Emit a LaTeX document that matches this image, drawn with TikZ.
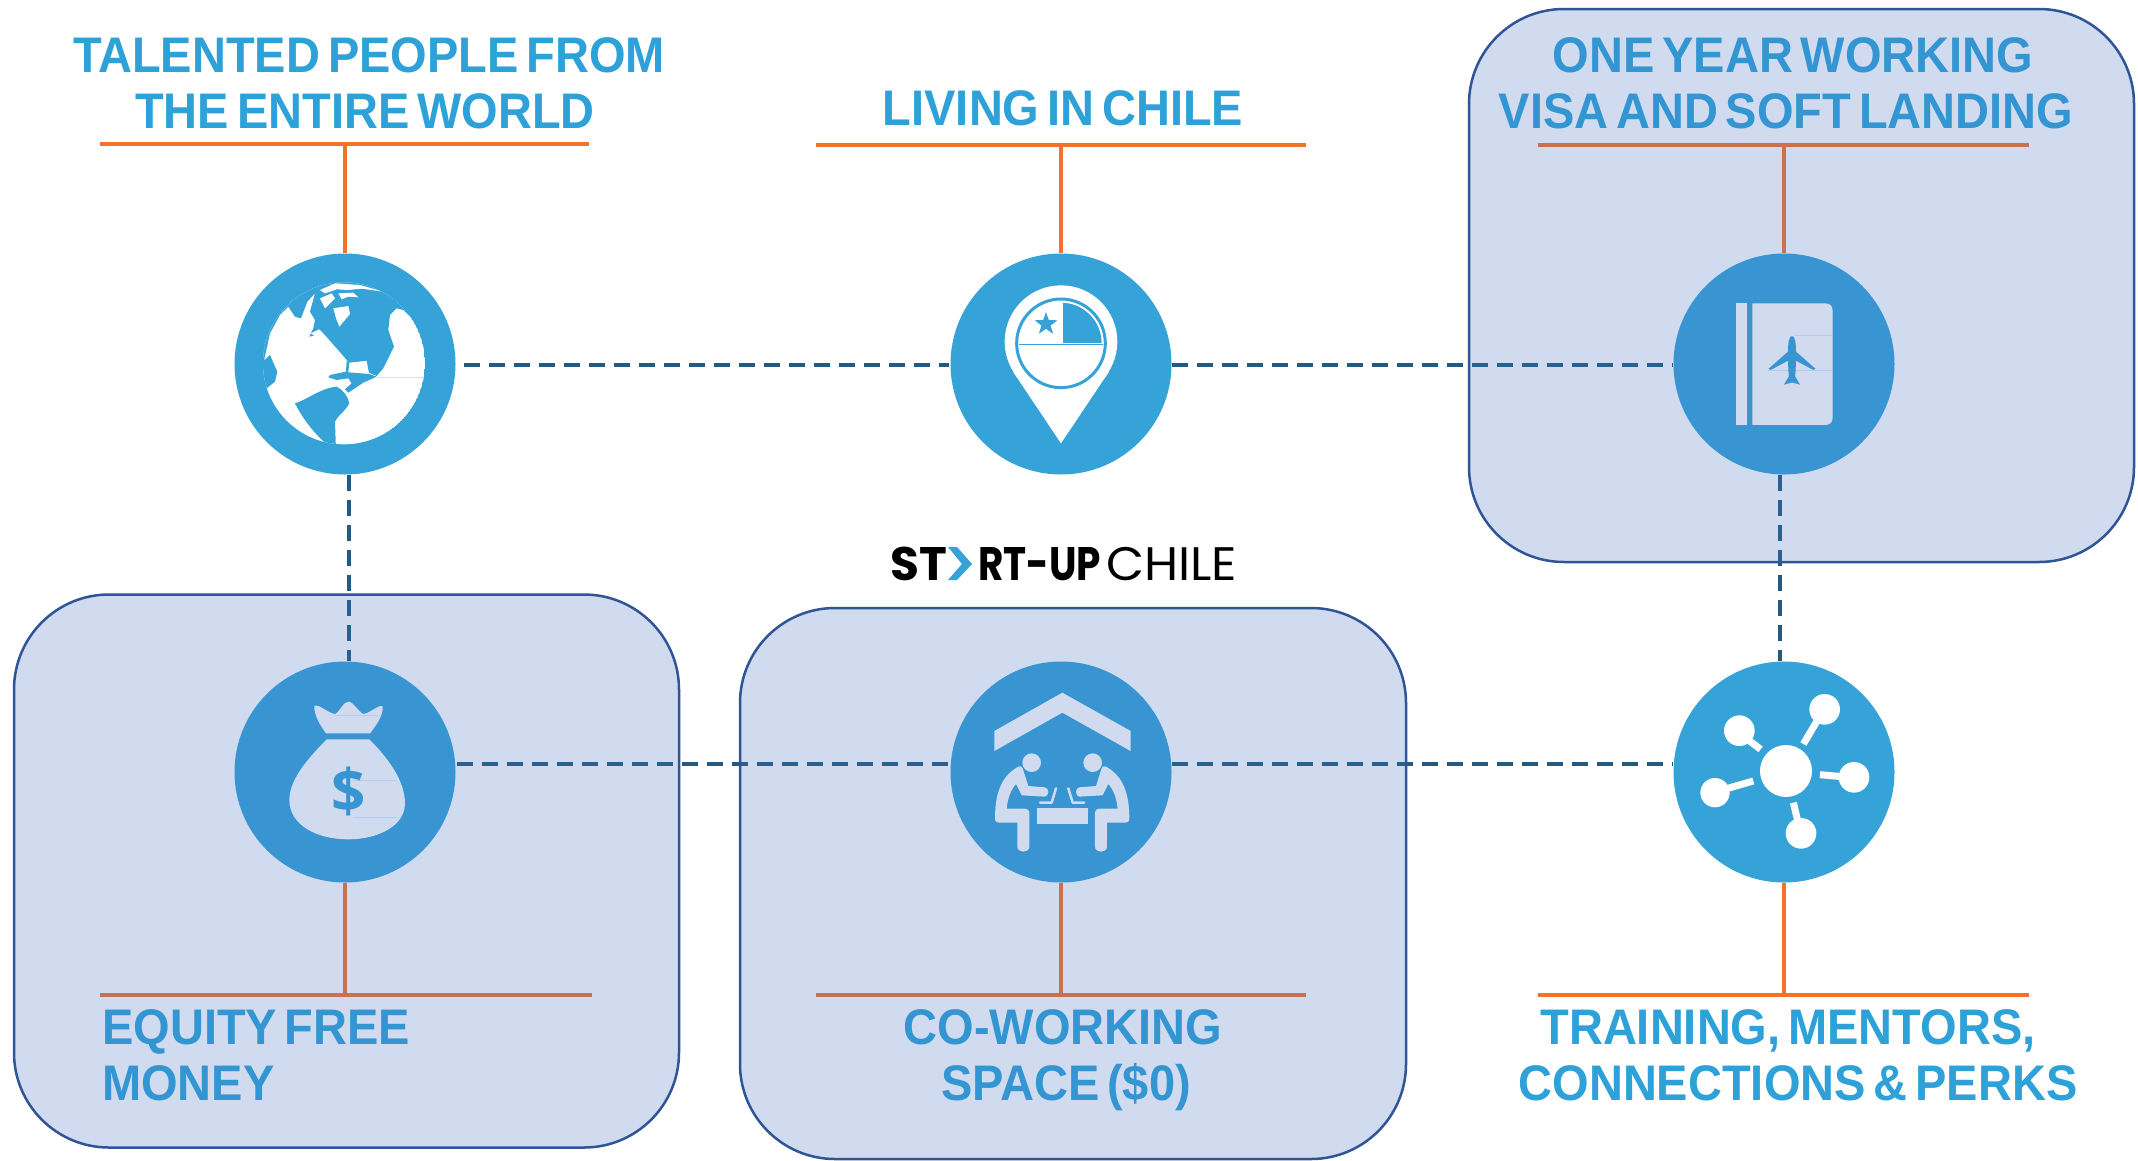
\documentclass[tikz,border=0pt]{standalone}
\usepackage{fontspec}
\setmainfont{Liberation Sans}[FakeStretch=0.94,WordSpace=0.6]
\newfontfamily\logofont{Poppins}
\newfontfamily\dollarfont{Open Sans}
\usetikzlibrary{shapes.geometric}
\definecolor{iconblue}{HTML}{35A2D8}
\definecolor{headblue}{HTML}{2EA2D8}
\definecolor{barorange}{HTML}{F4722B}
\definecolor{dashblue}{HTML}{235A7D}
\definecolor{panelblue}{HTML}{4472C4}
\definecolor{panelline}{HTML}{2F5597}
\tikzset{
  iconcirc/.style={circle,fill=iconblue,minimum size=221pt,inner sep=0pt},
  heading/.style={text=headblue,font=\fontsize{50}{50}\selectfont\bfseries,inner sep=0pt,anchor=base},
  bar/.style={draw=barorange,line width=3.5pt},
  link/.style={draw=dashblue,line width=3.5pt,dash pattern=on 16pt off 9pt},
  panel/.style={rectangle,rounded corners=95pt,fill=panelblue,fill opacity=.25,draw=panelline,draw opacity=1,line width=2.5pt,inner sep=0pt},
  zoomed/.style={x=.3333pt,y=-.3333pt},
  faint/.style={draw=iconblue,draw opacity=.2,line width=1pt},
  logotext/.style={inner sep=0pt,anchor=base west,text=black}
}
\begin{document}
\begin{tikzpicture}[x=1pt,y=-1pt]
\useasboundingbox (0,0) rectangle (2138,1160);
\clip (0,0) rectangle (2138,1160);
\fill[white] (0,0) rectangle (2138,1160);

% circles
\node[iconcirc] (globe) at (345,364) {};
\node[iconcirc] (pin) at (1061,364) {};
\node[iconcirc] (visa) at (1784,364) {};
\node[iconcirc] (money) at (345,772) {};
\node[iconcirc] (desk) at (1061,772) {};
\node[iconcirc] (net) at (1784,772) {};

% orange bars
\coordinate (t1) at (345,144); \coordinate (t1a) at (100,144); \coordinate (t1b) at (589,144);
\coordinate (t2) at (1061,145); \coordinate (t2a) at (816,145); \coordinate (t2b) at (1306,145);
\coordinate (t3) at (1784,145); \coordinate (t3a) at (1538,145); \coordinate (t3b) at (2029,145);
\coordinate (b1) at (345,995); \coordinate (b1a) at (100,995); \coordinate (b1b) at (592,995);
\coordinate (b2) at (1061,995); \coordinate (b2a) at (816,995); \coordinate (b2b) at (1306,995);
\coordinate (b3) at (1784,995); \coordinate (b3a) at (1538,995); \coordinate (b3b) at (2029,995);
\draw[bar] (t1a) -- (t1b); \draw[bar] (t1) -- (globe.north);
\draw[bar] (t2a) -- (t2b); \draw[bar] (t2) -- (pin.north);
\draw[bar] (t3a) -- (t3b); \draw[bar] (t3) -- (visa.north);
\draw[bar] (b1a) -- (b1b); \draw[bar] (b1) -- (money.south);
\draw[bar] (b2a) -- (b2b); \draw[bar] (b2) -- (desk.south);
\draw[bar] (b3a) -- (b3b); \draw[bar] (b3) -- (net.south);

% dashed links
\draw[link,shorten >=1pt] ([xshift=8pt,yshift=-1pt]globe.east) -- ([yshift=-1pt]pin.west);
\draw[link] ([yshift=-1pt]pin.east) -- ([yshift=-1pt]visa.west);
\draw[link] ([xshift=4pt]globe.south) -- ([xshift=4pt]money.north);
\draw[link] ([xshift=-4pt]visa.south) -- ([xshift=-4pt]net.north);
\draw[link] ([xshift=1pt,yshift=8pt]money.east) -- ([yshift=8pt]desk.west);
\draw[link] ([yshift=8pt]desk.east) -- ([yshift=8pt]net.west);

% globe
\begin{scope}[shift={(220,240)},zoomed]
  \begin{scope}
    \clip (372,370) circle (243);
    \fill[white] (372,370) circle (243);
    \fill[iconblue] (100,445) -- (140,445) -- (165,425) -- (172,395) -- (150,345) -- (132,362) -- (150,280) -- (180,225) -- (205,200) -- (225,230) -- (243,235) -- (262,185) -- (285,160) -- (270,215) -- (285,240) -- (280,265) -- (268,290) -- (310,280) -- (350,325) -- (382,362) -- (388,368) -- (440,362) -- (447,398) -- (470,408) -- (490,385) -- (522,320) -- (505,270) -- (510,225) -- (530,205) -- (550,210) -- (590,250) -- (620,100) -- (100,100) -- cycle;
    \fill[iconblue] (225,490) .. controls (260,480) and (300,445) .. (350,440) .. controls (370,450) and (385,470) .. (388,490) .. controls (375,515) and (350,530) .. (345,545) -- (348,630) -- (330,620) .. controls (290,590) and (250,540) .. (225,490) -- cycle;
    \fill[iconblue] (380,362) -- (378,395) -- (330,405) -- (325,412) -- (350,420) -- (385,415) -- (395,430) -- (375,448) -- (385,458) -- (430,428) -- (470,410) -- (448,402) -- (385,397) -- (388,368) -- cycle;
    % arctic flecks
    \fill[white] (300,150) -- (345,130) -- (420,135) -- (490,155) -- (425,146) -- (385,150) -- (350,148) -- (315,160) -- cycle;
    \fill[white] (300,175) -- (335,160) -- (345,175) -- (315,205) -- cycle;
    \fill[white] (355,160) -- (400,158) -- (415,172) -- (385,170) -- (365,178) -- cycle;
    \fill[white] (340,205) -- (385,198) -- (390,222) -- (358,260) -- (348,235) -- cycle;
    \fill[white] (272,280) -- (298,268) -- (320,292) -- (285,288) -- cycle;
    \draw[iconblue,draw opacity=.25,line width=1pt] (470,412) -- (612,412);
  \end{scope}
\end{scope}

% pin
\begin{scope}[shift={(940,240)},zoomed]
  \fill[white] (363,305) circle (169);
  \fill[white] (219,395) -- (363,610) -- (507,395) -- cycle;
  \draw[iconblue,line width=3pt] (363,310) circle (133);
  \begin{scope}
    \clip (363,310) circle (122);
    \fill[iconblue] (370,170) rectangle (490,310);
  \end{scope}
  \draw[iconblue,line width=1pt] (236,313) -- (490,313);
  \node[star,star points=5,star point ratio=2.5,fill=iconblue,minimum size=24pt,inner sep=0pt] (pinstar) at (318,252) {};
\end{scope}

% visa book
\begin{scope}[shift={(1660,240)},zoomed]
  \fill[white] (228,188) rectangle (262,555);
  \fill[white] (277,190) -- (495,190) .. controls (510,190) and (518,198) .. (518,213) -- (518,532) .. controls (518,547) and (510,555) .. (495,555) -- (277,555) -- cycle;
  \fill[iconblue] (396,288) .. controls (404,288) and (408,305) .. (408,335) -- (466,386) -- (460,390) -- (408,362) -- (406,410) -- (420,434) -- (398,428) -- (394,428) -- (372,434) -- (386,410) -- (384,362) -- (332,390) -- (326,386) -- (384,335) .. controls (384,305) and (388,288) .. (396,288) -- cycle;
  \draw[faint] (405,287) -- (515,287);
  \draw[faint] (325,392) -- (515,392);
\end{scope}

% money bag
\begin{scope}[shift={(220,650)},zoomed]
  \fill[white] (318,250) -- (450,250) .. controls (470,225) and (490,195) .. (488,170) .. controls (480,160) and (450,190) .. (430,192) .. controls (415,185) and (400,155) .. (385,155) .. controls (370,155) and (360,185) .. (345,192) .. controls (325,190) and (295,160) .. (283,168) .. controls (282,195) and (300,225) .. (318,250) -- cycle;
  \fill[white] (320,268) -- (448,268) .. controls (500,320) and (555,390) .. (555,460) .. controls (555,530) and (470,568) .. (385,568) .. controls (290,568) and (208,525) .. (208,450) .. controls (208,385) and (270,320) .. (320,268) -- cycle;
  \node[text=iconblue,inner sep=0pt,font=\dollarfont\fontsize{60}{60}\selectfont\bfseries] (dollar) at (385,425) {\$};
  \draw[faint] (400,391) -- (530,391);
  \draw[faint] (400,503) -- (530,503);
  \draw[faint] (345,196) -- (475,196);
\end{scope}

% co-working
\begin{scope}[shift={(940,650)},zoomed]
  \fill[white] (163,243) -- (367,128) -- (572,243) -- (572,303) -- (367,188) -- (163,303) -- cycle;
  \fill[white] (290,473) rectangle (445,522);
  \foreach \flip/\off/\nm in {1/0/a,-1/733/b}{
    \begin{scope}[xshift=\off*.3333pt,x=\flip*.3333pt]
      \fill[white] (275,338) circle (28);
      \fill[white] (235,350) .. controls (190,375) and (165,420) .. (165,505) .. controls (165,515) and (170,518) .. (180,518) -- (232,518) -- (232,590) .. controls (232,610) and (268,610) .. (268,590) -- (268,490) .. controls (268,480) and (262,476) .. (252,476) -- (200,476) .. controls (203,445) and (212,420) .. (228,402) -- (245,436) -- (315,440) .. controls (328,438) and (328,414) .. (315,412) -- (265,408) -- (248,355) .. controls (245,348) and (240,347) .. (235,350) -- cycle;
      \draw[white,line width=2.5pt,line cap=round,line join=round] (300,458) -- (335,458) -- (348,415);
    \end{scope}
  }
\end{scope}

% network
\begin{scope}[shift={(1660,650)},zoomed]
  \fill[white] (378,363) circle (78);
  \fill[white] (494,178) circle (46);
  \fill[white] (238,242) circle (46);
  \fill[white] (582,382) circle (46);
  \fill[white] (165,428) circle (44);
  \fill[white] (423,550) circle (46);
  \draw[white,line width=7pt] (430,282) -- (470,215);
  \draw[white,line width=7pt] (302,298) -- (265,270);
  \draw[white,line width=7pt] (480,374) -- (545,380);
  \draw[white,line width=7pt] (280,393) -- (200,416);
  \draw[white,line width=7pt] (400,458) -- (415,520);
\end{scope}

% headings
\node[heading] (h1a) at (369,72) {TALENTED PEOPLE FROM};
\node[heading] (h1b) at (365,128) {THE ENTIRE WORLD};
\node[heading] (h2) at (1063,125) {LIVING IN CHILE};
\node[heading] (h3a) at (1793,72) {ONE YEAR WORKING};
\node[heading] (h3b) at (1786,128) {VISA AND SOFT LANDING};
\node[heading,anchor=base west] (h4a) at (102,1044) {EQUITY FREE};
\node[heading,anchor=base west] (h4b) at (102,1100) {MONEY};
\node[heading] (h5a) at (1063,1044) {CO-WORKING};
\node[heading] (h5b) at (1066,1100) {SPACE (\$0)};
\node[heading] (h6a) at (1788,1044) {TRAINING, MENTORS,};
\node[heading] (h6b) at (1798,1100) {CONNECTIONS \& PERKS};

% logo
\node[logotext,font=\logofont\fontsize{47}{47}\selectfont\bfseries] (logoa) at (890,580) {ST};
\fill[iconblue] (948,547) -- (957,547) -- (972,564) -- (957,580) -- (948,580) -- (962,564) -- cycle;
\node[logotext,font=\logofont\fontsize{47}{47}\selectfont\bfseries] (logob) at (978,580) {\scalebox{.83}[1]{RT-UP}};
\node[logotext,font=\logofont\fontsize{47}{47}\selectfont] (logoc) at (1106,580) {\scalebox{1.05}[1]{CHILE}};

% translucent panels on top
\node[panel,minimum width=665pt,minimum height=553pt] (panelvisa) at (1801.5,285.5) {};
\node[panel,minimum width=665pt,minimum height=553pt] (panelmoney) at (346.5,871) {};
\node[panel,minimum width=666pt,minimum height=551pt] (paneldesk) at (1073,883.5) {};
\end{tikzpicture}
\end{document}
